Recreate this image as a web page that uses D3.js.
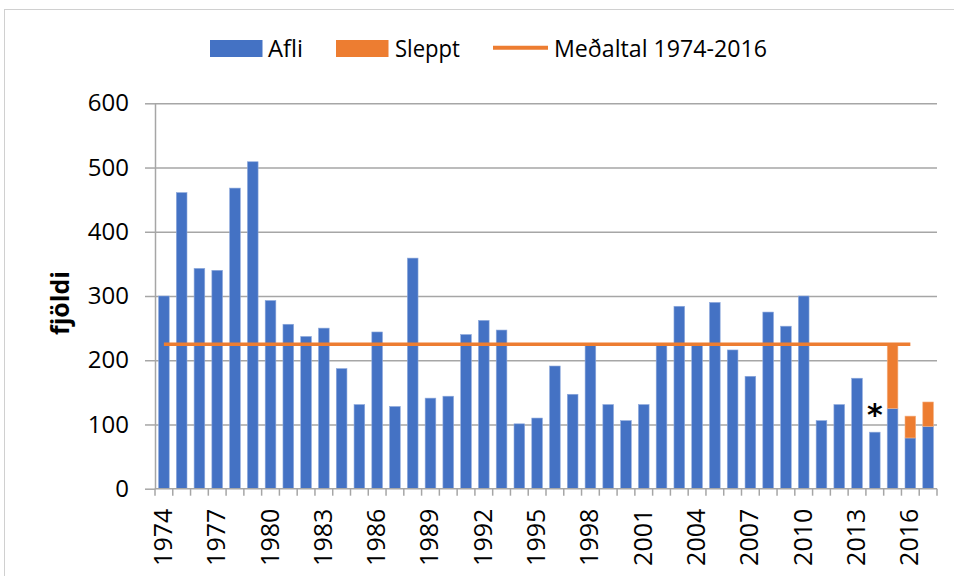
<!DOCTYPE html>
<meta charset="utf-8">
<style>
body { margin: 0; background: #fff; }
svg { font-family: "Open Sans", sans-serif; }
.grid line { stroke: #a6a6a6; stroke-width: 1.5; }
.grid path { display: none; }
.axis path, .axis line { stroke: #a6a6a6; stroke-width: 1.5; }
</style>
<body>
<script src="https://d3js.org/d3.v7.min.js"></script>
<script>
// years shown on the x axis, one bar each
const years = d3.range(1974, 2018);
// catch (blue)
const afli = [300, 461, 343, 340, 468, 509, 293, 256, 237, 250,
              187, 131, 244, 128, 359, 141, 144, 240, 262, 247,
              101, 110, 191, 147, 223, 131, 106, 131, 224, 284,
              224, 290, 216, 175, 275, 253, 300, 106, 131, 172,
              88, 125, 79, 97];
// released (orange), stacked on top
const sleppt = [0, 0, 0, 0, 0, 0, 0, 0, 0, 0,
                0, 0, 0, 0, 0, 0, 0, 0, 0, 0,
                0, 0, 0, 0, 0, 0, 0, 0, 0, 0,
                0, 0, 0, 0, 0, 0, 0, 0, 0, 0,
                0, 98, 34, 38];
const avgValue = 225;
const avgYears = [1974, 2016];
const yTicks = [0, 100, 200, 300, 400, 500, 600];
const xLabelYears = years.filter(y => (y - 1974) % 3 === 0);

const blue = "#4472c4", orange = "#ed7d31";

const plotVars = ({
   width: 954,
   height: 576,
   left: 155,
   right: 937,
   top: 103.3,
   bottom: 488.7
});

const svg = d3.select("body").append("svg")
   .attr("width", plotVars.width)
   .attr("height", plotVars.height);

// outer chart border
svg.append("rect")
   .attr("x", 4.5).attr("y", 9.5)
   .attr("width", 960).attr("height", 600)
   .attr("fill", "none")
   .attr("stroke", "#d0d0d0");

const x = d3.scaleBand()
   .domain(years)
   .range([plotVars.left, plotVars.right])
   .paddingInner(0.4)
   .paddingOuter(0.2);

const y = d3.scaleLinear()
   .domain([0, 600])
   .range([plotVars.bottom, plotVars.top]);

// horizontal grid
svg.append("g")
   .attr("class", "grid")
   .attr("transform", `translate(${plotVars.left},0)`)
   .call(d3.axisLeft(y).tickValues(yTicks.slice(1)).tickSize(-(plotVars.right - plotVars.left)).tickFormat(""));

// bars
const data = years.map((yr, i) => ({ year: yr, afli: afli[i], sleppt: sleppt[i] }));

svg.append("g").selectAll("rect")
   .data(data)
   .join("rect")
   .attr("x", d => x(d.year))
   .attr("width", x.bandwidth())
   .attr("y", d => y(d.afli))
   .attr("height", d => y(0) - y(d.afli))
   .attr("fill", blue)
   .attr("stroke", "#8faadc")
   .attr("stroke-width", 0.6);

svg.append("g").selectAll("rect")
   .data(data.filter(d => d.sleppt > 0))
   .join("rect")
   .attr("x", d => x(d.year))
   .attr("width", x.bandwidth())
   .attr("y", d => y(d.afli + d.sleppt))
   .attr("height", d => y(d.afli) - y(d.afli + d.sleppt))
   .attr("fill", orange)
   .attr("stroke", "#f4b183")
   .attr("stroke-width", 0.6);

// average line
const lineGen = d3.line()
   .x(d => x(d) + x.bandwidth() / 2)
   .y(() => y(avgValue));

svg.append("path")
   .attr("d", lineGen(avgYears))
   .attr("fill", "none")
   .attr("stroke", orange)
   .attr("stroke-width", 3.5);

// asterisk above 2014
svg.append("text")
   .attr("x", x(2014) + x.bandwidth() / 2)
   .attr("y", y(88) - 7)
   .attr("text-anchor", "middle")
   .style("font-size", "30px")
   .style("font-weight", "bold")
   .style("font-family", "DejaVu Sans")
   .text("*");

// y axis
const yAxis = svg.append("g")
   .attr("class", "axis")
   .attr("transform", `translate(${plotVars.left},0)`)
   .call(d3.axisLeft(y).tickValues(yTicks).tickSize(10).tickPadding(16).tickSizeOuter(0));
yAxis.selectAll("text")
   .style("font-size", "24px")
   .style("font-family", "Open Sans")
   .attr("fill", "#000");

// x axis: tick at every category boundary
const step = x.step();
const xAxis = svg.append("g")
   .attr("class", "axis")
   .attr("transform", `translate(0,${plotVars.bottom})`);
xAxis.append("line")
   .attr("x1", plotVars.left).attr("x2", plotVars.right);
xAxis.selectAll(".tk")
   .data(d3.range(years.length + 1))
   .join("line")
   .attr("class", "tk")
   .attr("x1", i => plotVars.left + i * step)
   .attr("x2", i => plotVars.left + i * step)
   .attr("y1", 0).attr("y2", 7);
xAxis.selectAll("text")
   .data(xLabelYears)
   .join("text")
   .attr("transform", d => `translate(${x(d) + x.bandwidth() / 2 + 8},20) rotate(-90)`)
   .attr("text-anchor", "end")
   .style("font-size", "25px")
   .attr("fill", "#000")
   .text(d => d);

// y title
svg.append("text")
   .attr("transform", "translate(69,303) rotate(-90)")
   .attr("text-anchor", "middle")
   .style("font-size", "25px")
   .style("font-weight", "bold")
   .style("font-family", "Open Sans")
   .text("fjöldi");

// legend
const legend = svg.append("g").style("font-size", "24px");
legend.append("rect").attr("x", 210).attr("y", 40).attr("width", 52.5).attr("height", 17).attr("fill", blue);
legend.append("text").attr("x", 268).attr("y", 57)
   .attr("textLength", 35).attr("lengthAdjust", "spacingAndGlyphs")
   .text("Afli");
legend.append("rect").attr("x", 336).attr("y", 40).attr("width", 52.5).attr("height", 17).attr("fill", orange);
legend.append("text").attr("x", 395).attr("y", 57)
   .attr("textLength", 65).attr("lengthAdjust", "spacingAndGlyphs")
   .text("Sleppt");
legend.append("line").attr("x1", 493).attr("x2", 548).attr("y1", 47.7).attr("y2", 47.7)
   .attr("stroke", orange).attr("stroke-width", 4);
legend.append("text").attr("x", 554).attr("y", 57)
   .attr("textLength", 213).attr("lengthAdjust", "spacingAndGlyphs")
   .text("Meðaltal 1974-2016");
</script>
</body>
</html>
